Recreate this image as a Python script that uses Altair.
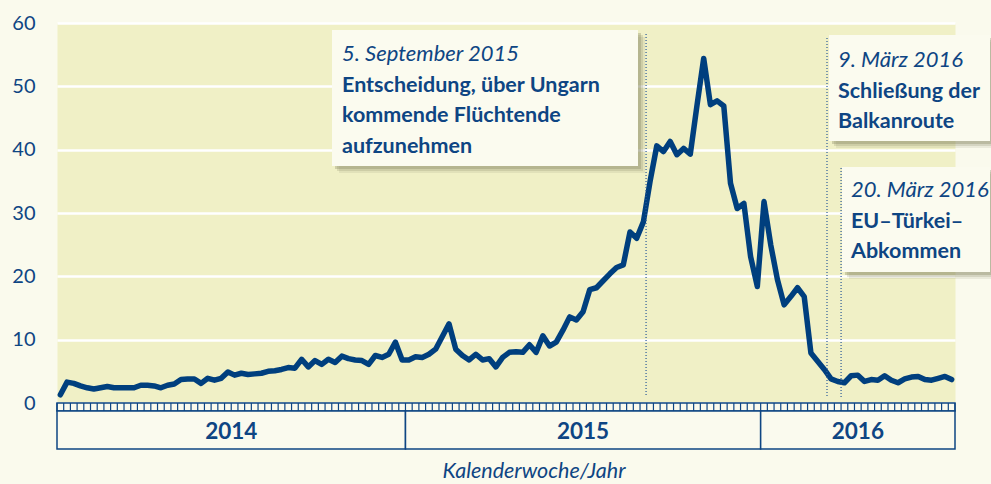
import altair as alt
import pandas as pd

# ---------------- data ----------------
years = ["2014", "2015", "2016"]
weeks_per_year = [52, 53, 29]

values_2014 = [1.3, 3.3, 3.1, 2.7, 2.4, 2.2, 2.4, 2.6, 2.4, 2.4,
               2.4, 2.4, 2.8, 2.8, 2.7, 2.4, 2.8, 3.0, 3.7, 3.8,
               3.8, 3.1, 3.9, 3.6, 3.9, 4.9, 4.4, 4.7, 4.5, 4.6,
               4.7, 5.0, 5.1, 5.3, 5.6, 5.5, 6.9, 5.7, 6.7, 6.1,
               6.9, 6.4, 7.4, 7.0, 6.8, 6.7, 6.1, 7.5, 7.2, 7.7,
               9.6, 6.8]
values_2015 = [6.8, 7.3, 7.2, 7.7, 8.5, 10.5, 12.5, 8.5, 7.5, 6.8,
               7.7, 6.8, 7.0, 5.7, 7.2, 8.0, 8.1, 8.0, 9.2, 8.0,
               10.6, 9.0, 9.6, 11.5, 13.6, 13.1, 14.4, 17.9, 18.2, 19.3,
               20.4, 21.4, 21.8, 27.0, 26.0, 28.6, 35.0, 40.6, 39.7, 41.3,
               39.2, 40.2, 39.3, 47.0, 54.4, 47.1, 47.7, 46.9, 34.7, 30.7,
               31.5, 23.1, 18.4]
values_2016 = [31.8, 25.0, 19.5, 15.5, 16.8, 18.2, 16.8, 7.9, 6.6, 5.3,
               3.8, 3.4, 3.2, 4.3, 4.4, 3.4, 3.7, 3.6, 4.3, 3.6,
               3.2, 3.8, 4.1, 4.2, 3.7, 3.6, 3.9, 4.2, 3.7]

y_ticks = [0, 10, 20, 30, 40, 50, 60]

event_dates = ["5. September 2015", "9. März 2016", "20. März 2016"]
event_lines = [["Entscheidung, über Ungarn", "kommende Flüchtende", "aufzunehmen"],
               ["Schließung der", "Balkanroute"],
               ["EU–Türkei–", "Abkommen"]]
event_week = [87.9, 114.9, 117.0]

x_title = "Kalenderwoche/Jahr"

# ---------------- styling ----------------
BLUE = "#0E4583"
LINE = "#003F7E"
FONT = "Lato"
W, H = 898, 380
total_weeks = sum(weeks_per_year)

all_values = values_2014 + values_2015 + values_2016
df = pd.DataFrame({"week": [i + 0.5 for i in range(len(all_values))],
                   "value": all_values})

xscale = alt.Scale(domain=[0, total_weeks], nice=False, zero=False)
yscale = alt.Scale(domain=[0, 60], nice=False)

one = pd.DataFrame({"a": [0]})

line = alt.Chart(df).mark_line(color=LINE, strokeWidth=5.5, strokeJoin="round",
                               strokeCap="round").encode(
    x=alt.X("week:Q", scale=xscale, axis=None),
    y=alt.Y("value:Q", scale=yscale, title=None,
            axis=alt.Axis(values=y_ticks, grid=True, gridColor="white", gridWidth=2.5,
                          domain=False, ticks=False, labelFontSize=20, labelColor=BLUE,
                          labelFont=FONT, labelPadding=22)),
)

# week strip under the plot
bounds = pd.DataFrame({"b": list(range(total_weeks + 1))})
strip_bg = alt.Chart(pd.DataFrame({"s": [0], "e": [total_weeks]})).mark_rect(
    fill="#FAFAEE", stroke=BLUE, strokeWidth=1.5).encode(
    x=alt.X("s:Q", scale=xscale), x2="e:Q", y=alt.value(380), y2=alt.value(388))
strip_ticks = alt.Chart(bounds).mark_rule(color=BLUE, strokeWidth=1.2).encode(
    x=alt.X("b:Q", scale=xscale), y=alt.value(380), y2=alt.value(388))

starts, ends = [], []
acc = 0
for n in weeks_per_year:
    starts.append(acc)
    acc += n
    ends.append(acc)
ydf = pd.DataFrame({"year": years, "s": starts, "e": ends,
                    "m": [(a + b) / 2 for a, b in zip(starts, ends)]})
year_box = alt.Chart(ydf).mark_rect(fill="#FAFAEE", stroke=BLUE, strokeWidth=1.5).encode(
    x=alt.X("s:Q", scale=xscale), x2="e:Q", y=alt.value(388), y2=alt.value(426))
year_text = alt.Chart(ydf).mark_text(font=FONT, fontSize=22.5, fontWeight="bold",
                                     color=BLUE, baseline="alphabetic").encode(
    x=alt.X("m:Q", scale=xscale), y=alt.value(416), text="year:N")

xtitle = alt.Chart(one).mark_text(font=FONT, fontSize=21.5, fontStyle="italic",
                                  color=BLUE, baseline="alphabetic").encode(
    x=alt.value(477), y=alt.value(455), text=alt.value(x_title))

layers = [line, strip_bg, strip_ticks, year_box, year_text, xtitle]

# event rules
rule_tops = [11, 15, 145]
edf = pd.DataFrame({"week": event_week})
for i in range(len(event_week)):
    layers.append(alt.Chart(edf.iloc[[i]]).mark_rule(
        color="#2A5A98", strokeWidth=1.2, strokeDash=[1, 2]).encode(
        x=alt.X("week:Q", scale=xscale), y=alt.value(rule_tops[i]), y2=alt.value(374)))

# annotation boxes (plot-area pixel coords)
boxes = [(275, 581, 7, 143), (772, 933, 12, 118), (785, 933, 144, 249)]
text_x = [285, 781, 794]
text_y0 = [38, 44, 174]
for i, (x0, x1, y0, y1) in enumerate(boxes):
    for off, op in [(7, 0.12), (5, 0.2), (3, 0.3)]:
        layers.append(alt.Chart(one).mark_rect(fill="#7d7d5a", opacity=op).encode(
            x=alt.value(x0 + off), x2=alt.value(x1 + off),
            y=alt.value(y0 + off), y2=alt.value(y1 + off)))
    layers.append(alt.Chart(one).mark_rect(fill="#FBFBEF").encode(
        x=alt.value(x0), x2=alt.value(x1), y=alt.value(y0), y2=alt.value(y1)))
    layers.append(alt.Chart(one).mark_text(
        font=FONT, fontSize=22, fontStyle="italic", color=BLUE, align="left",
        baseline="alphabetic").encode(
        x=alt.value(text_x[i]), y=alt.value(text_y0[i]), text=alt.value(event_dates[i])))
    for j, t in enumerate(event_lines[i]):
        layers.append(alt.Chart(one).mark_text(
            font=FONT, fontSize=21.5, fontWeight="bold", color=BLUE, align="left",
            baseline="alphabetic").encode(
            x=alt.value(text_x[i]), y=alt.value(text_y0[i] + 30.7 * (j + 1)),
            text=alt.value(t)))

chart = alt.layer(*layers).properties(
    width=W, height=H,
    autosize=alt.AutoSizeParams(type="none"),
    padding={"left": 57, "top": 23, "right": 36, "bottom": 81},
    background="#FAFAED",
).configure_view(fill="#F0F0C6", stroke="transparent")

chart.save("out.html", embed_options={"renderer": "svg", "actions": False})
